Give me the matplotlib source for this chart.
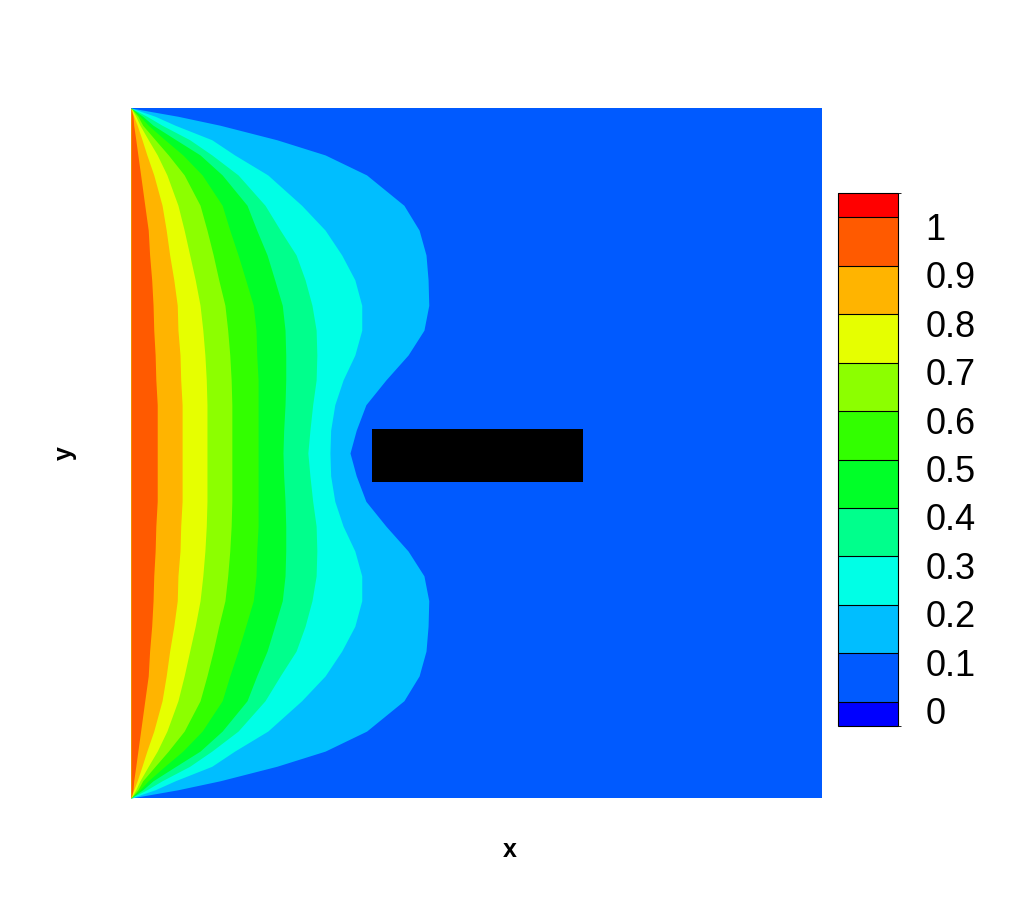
import matplotlib
matplotlib.use('Agg')
import matplotlib.pyplot as plt
import numpy as np
from matplotlib.colors import ListedColormap, BoundaryNorm
from matplotlib.cm import ScalarMappable
from matplotlib.transforms import ScaledTranslation

plt.rcParams['font.family'] = ['Liberation Sans', 'DejaVu Sans']

# contour levels and Tecplot-like band colours (below 0, 0-0.1, ..., 0.9-1, above 1)
levels = [0.1, 0.2, 0.3, 0.4, 0.5, 0.6, 0.7, 0.8, 0.9]
band_colors = ['#0000ff', '#005aff', '#00beff', '#00ffe6', '#00ff8c', '#00ff28',
               '#32ff00', '#8cff00', '#e6ff00', '#ffb400', '#ff5a00', '#ff0000']
cbar_bounds = [-0.05, 0.0, 0.1, 0.2, 0.3, 0.4, 0.5, 0.6, 0.7, 0.8, 0.9, 1.0, 1.05]
cbar_ticks = [0, 0.1, 0.2, 0.3, 0.4, 0.5, 0.6, 0.7, 0.8, 0.9, 1]
cbar_labels = ['0', '0.1', '0.2', '0.3', '0.4', '0.5', '0.6', '0.7', '0.8', '0.9', '1']

# y stations of the upper half (top wall down to mid-height)
y_half = [1.0, 0.988, 0.975, 0.954, 0.932, 0.903, 0.859, 0.823, 0.787,
          0.751, 0.714, 0.678, 0.642, 0.606, 0.570, 0.533, 0.5]

# x position of each iso-line at those stations
x_01 = [0, 0.068, 0.129, 0.211, 0.281, 0.341, 0.395, 0.417, 0.427,
        0.430, 0.431, 0.424, 0.401, 0.369, 0.340, 0.326, 0.317]
x_02 = [0, 0.035, 0.064, 0.117, 0.150, 0.198, 0.247, 0.281, 0.305,
        0.324, 0.334, 0.334, 0.324, 0.307, 0.295, 0.289, 0.288]
x_03 = [0, 0.023, 0.045, 0.085, 0.117, 0.155, 0.194, 0.216, 0.239,
        0.252, 0.262, 0.268, 0.269, 0.268, 0.263, 0.259, 0.256]
x_04 = [0, 0.017, 0.032, 0.065, 0.100, 0.132, 0.168, 0.182, 0.197,
        0.208, 0.219, 0.223, 0.224, 0.224, 0.223, 0.221, 0.220]
x_05 = [0, 0.013, 0.025, 0.049, 0.075, 0.103, 0.132, 0.143, 0.155,
        0.166, 0.177, 0.181, 0.182, 0.184, 0.184, 0.184, 0.184]
x_06 = [0, 0.010, 0.017, 0.035, 0.054, 0.077, 0.100, 0.110, 0.119,
        0.127, 0.136, 0.140, 0.143, 0.145, 0.146, 0.146, 0.146]
x_07 = [0, 0.007, 0.013, 0.025, 0.038, 0.052, 0.068, 0.077, 0.085,
        0.093, 0.100, 0.104, 0.107, 0.109, 0.110, 0.110, 0.110]
x_08 = [0, 0.004, 0.009, 0.016, 0.023, 0.033, 0.045, 0.051, 0.056,
        0.062, 0.067, 0.068, 0.071, 0.072, 0.074, 0.074, 0.074]
x_09 = [0, 0.003, 0.004, 0.007, 0.010, 0.014, 0.020, 0.025, 0.027,
        0.030, 0.032, 0.033, 0.035, 0.036, 0.038, 0.038, 0.038]
iso_x = [x_01, x_02, x_03, x_04, x_05, x_06, x_07, x_08, x_09]

# solid block in the channel
block = (0.349, 0.458, 0.305, 0.077)  # x0, y0, width, height


def mirror(y, x):
    # field is symmetric about mid-height
    y = np.asarray(y)
    x = np.asarray(x)
    return np.concatenate([y, 1 - y[::-1][1:]]), np.concatenate([x, x[::-1][1:]])


fig = plt.figure(figsize=(10.12, 9.0), dpi=100)
ax = fig.add_axes([0.1294, 0.1133, 0.6828, 0.7667])
ax.set_facecolor(band_colors[1])

for i, xs in enumerate(iso_x):
    yy, xx = mirror(y_half, xs)
    ax.fill_betweenx(yy, 0, xx, color=band_colors[i + 2], lw=0)

ax.add_patch(plt.Rectangle(block[:2], block[2], block[3], color='black', lw=0))

ax.set_xlim(0, 1)
ax.set_ylim(0, 1)
ax.set_xticks([])
ax.set_yticks([])
for s in ax.spines.values():
    s.set_visible(False)

fig.text(0.064, 0.497, 'y', rotation=90, ha='center', va='center',
         fontsize=18, fontweight='bold')
fig.text(0.504, 0.056, 'x', ha='center', va='center',
         fontsize=18, fontweight='bold')

cax = fig.add_axes([0.828, 0.1933, 0.0593, 0.5922])
cmap = ListedColormap(band_colors)
norm = BoundaryNorm(cbar_bounds, cmap.N)
cb = fig.colorbar(ScalarMappable(norm=norm, cmap=cmap), cax=cax,
                  boundaries=cbar_bounds, ticks=cbar_ticks,
                  spacing='proportional', drawedges=True)
cb.outline.set_linewidth(0.8)
cb.dividers.set_linewidth(0.8)
cb.ax.set_yticklabels(cbar_labels)
cb.ax.tick_params(length=0, pad=20, labelsize=26)
shift = ScaledTranslation(0, -0.09, fig.dpi_scale_trans)
for lab in cb.ax.get_yticklabels():
    lab.set_transform(lab.get_transform() + shift)

fig.savefig('out.png', dpi=100)
